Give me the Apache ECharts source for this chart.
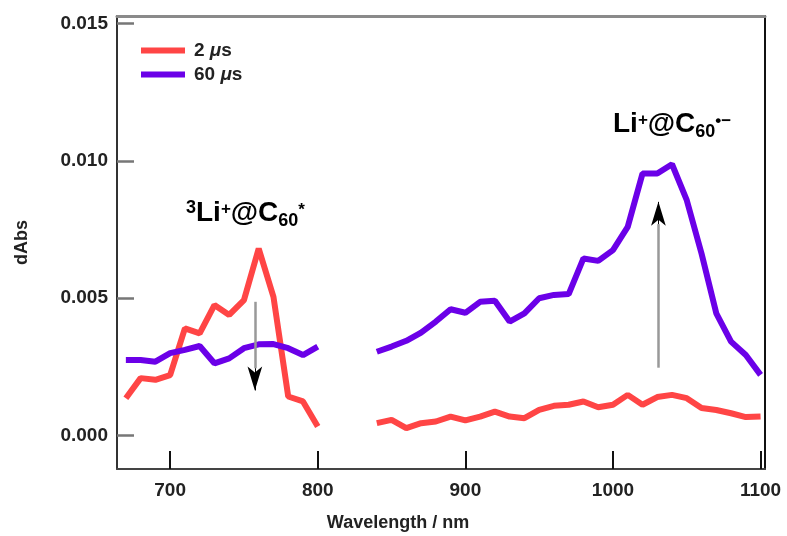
<!DOCTYPE html>
<html>
<head>
<meta charset="utf-8">
<script src="https://cdn.jsdelivr.net/npm/echarts@6/dist/echarts.min.js"></script>
<style>
  html, body { margin: 0; padding: 0; background: #fff; }
  #chart { width: 787px; height: 536px; }
</style>
</head>
<body>
<div id="chart"></div>
<script>
// wavelengths (nm), two measured windows
const wlVis = [670, 680, 690, 700, 710, 720, 730, 740, 750, 760, 770, 780, 790, 800]
const wlNir = [840, 850, 860, 870, 880, 890, 900, 910, 920, 930, 940, 950, 960, 970, 980, 990,
  1000, 1010, 1020, 1030, 1040, 1050, 1060, 1070, 1080, 1090, 1100]

// 2 us spectrum
const abs2Vis = [0.00136, 0.00209, 0.00203, 0.0022, 0.0039, 0.00372, 0.00475, 0.00439, 0.00493,
  0.00681, 0.00505, 0.00142, 0.00124, 0.00033]
const abs2Nir = [0.00045, 0.00057, 0.00027, 0.00045, 0.00051, 0.00069, 0.00055, 0.00069, 0.00087,
  0.00069, 0.00063, 0.00093, 0.00108, 0.00112, 0.00124, 0.00103, 0.00112, 0.00148, 0.00112,
  0.0014, 0.00148, 0.00136, 0.001, 0.00093, 0.00081, 0.00067, 0.00069]

// 60 us spectrum
const abs60Vis = [0.00275, 0.00275, 0.00269, 0.003, 0.00312, 0.00326, 0.00263, 0.00281, 0.00318,
  0.00332, 0.00333, 0.00318, 0.00293, 0.00324]
const abs60Nir = [0.00305, 0.00324, 0.00345, 0.00375, 0.00415, 0.0046, 0.00447, 0.00487, 0.00491,
  0.00415, 0.00445, 0.005, 0.00512, 0.00515, 0.00645, 0.00636, 0.00675, 0.0076, 0.00954,
  0.00954, 0.00988, 0.00857, 0.00663, 0.00445, 0.00342, 0.00293, 0.00221]

const xTicks = [700, 800, 900, 1000, 1100]
const yTicks = [0, 0.005, 0.01, 0.015]

const font = 'Liberation Sans, Arial, Helvetica, sans-serif'

// join both windows, leave a gap between 800 and 840 nm
const joinSpectrum = (valsVis, valsNir) => {
  const pts = wlVis.map((w, i) => [w, valsVis[i]])
  pts.push([820, '-'])
  return pts.concat(wlNir.map((w, i) => [w, valsNir[i]]))
}

const chart = echarts.init(document.getElementById('chart'))

// grey shaft + black head (tip sits on the end coord)
const arrow = (x, from, headStart, tip) => [
  [{ coord: [x, from], symbol: 'none', lineStyle: { color: '#999', width: 2.5, type: 'solid' } },
   { coord: [x, headStart], symbol: 'none' }],
  [{ coord: [x, headStart], symbol: 'none', lineStyle: { color: '#000', width: 1, type: 'solid' } },
   { coord: [x, tip], symbol: 'arrow', symbolSize: [11, 24] }]
]

const bold = { fontFamily: font, fontWeight: 'bold', color: '#111' }
const annoRich = {
  m: { ...bold, fontSize: 28, lineHeight: 34 },
  s3: { ...bold, fontSize: 18, lineHeight: 18, verticalAlign: 'top', padding: [3, 0, 0, 0] },
  pl: { ...bold, fontSize: 17, lineHeight: 18, verticalAlign: 'top', padding: [5, 0, 0, 0] },
  st: { ...bold, fontSize: 17, lineHeight: 18, verticalAlign: 'top', padding: [6, 0, 0, 0] },
  sub: { ...bold, fontSize: 18, lineHeight: 13, verticalAlign: 'bottom' }
}

const option = {
  animation: false,
  backgroundColor: '#fff',
  grid: { left: 117, right: 22, top: 16, bottom: 67, outerBoundsMode: 'none' },
  legend: {
    left: 141,
    top: 40,
    orient: 'vertical',
    padding: 0,
    itemGap: 3,
    itemWidth: 44,
    itemHeight: 6,
    icon: 'rect',
    formatter: name => name.replace('μ', '{i|μ}'),
    textStyle: {
      fontFamily: font, fontSize: 19, fontWeight: 'bold', color: '#222', lineHeight: 21,
      padding: [0, 0, 0, 4],
      rich: { i: { fontFamily: font, fontSize: 19, fontWeight: 'bold', fontStyle: 'italic', color: '#222' } }
    },
    data: ['2 μs', '60 μs']
  },
  xAxis: [{
    type: 'value',
    min: 664,
    max: 1103,
    name: 'Wavelength / nm',
    nameLocation: 'middle',
    nameGap: 45,
    nameTextStyle: { fontFamily: font, fontSize: 18, fontWeight: 'bold', color: '#222', padding: [0, 86, 0, 0] },
    axisLine: { onZero: false, lineStyle: { color: '#444', width: 2 } },
    axisTick: { inside: true, length: 18, customValues: xTicks, lineStyle: { color: '#111', width: 2 } },
    axisLabel: {
      margin: 12, customValues: xTicks, fontFamily: font, fontSize: 19, fontWeight: 'bold', color: '#222',
      formatter: v => String(v)
    },
    splitLine: { show: false }
  }, {
    type: 'value',
    position: 'top',
    min: 664,
    max: 1103,
    axisLine: { onZero: false, lineStyle: { color: '#8a8a8a', width: 3 } },
    axisTick: { show: false },
    axisLabel: { show: false },
    splitLine: { show: false }
  }],
  yAxis: [{
    type: 'value',
    min: -0.00122,
    max: 0.01528,
    name: 'dAbs',
    nameLocation: 'middle',
    nameGap: 86,
    nameTextStyle: { fontFamily: font, fontSize: 18, fontWeight: 'bold', color: '#222' },
    axisLine: { show: true, onZero: false, lineStyle: { color: '#333', width: 2 } },
    axisTick: { inside: true, length: 17, customValues: yTicks, lineStyle: { color: '#777', width: 2.5 } },
    axisLabel: {
      margin: 9, customValues: yTicks, fontFamily: font, fontSize: 19, fontWeight: 'bold', color: '#222',
      formatter: v => v.toFixed(3)
    },
    splitLine: { show: false }
  }, {
    type: 'value',
    position: 'right',
    min: -0.00122,
    max: 0.01528,
    axisLine: { show: true, onZero: false, lineStyle: { color: '#111', width: 2 } },
    axisTick: { show: false },
    axisLabel: { show: false },
    splitLine: { show: false }
  }],
  series: [{
    name: '2 μs',
    type: 'line',
    data: joinSpectrum(abs2Vis, abs2Nir),
    showSymbol: false,
    connectNulls: false,
    itemStyle: { color: '#ff4545' },
    lineStyle: { color: '#ff4545', width: 6 },
    z: 3
  }, {
    name: '60 μs',
    type: 'line',
    data: joinSpectrum(abs60Vis, abs60Nir),
    showSymbol: false,
    connectNulls: false,
    itemStyle: { color: '#6b00e8' },
    lineStyle: { color: '#6b00e8', width: 6 },
    z: 3,
    markLine: {
      silent: true,
      z: 10,
      label: { show: false },
      emphasis: { disabled: true },
      data: [
        ...arrow(757.4, 0.00487, 0.00245, 0.00164),
        ...arrow(1030.8, 0.00247, 0.0077, 0.00851)
      ]
    }
  }],
  graphic: [{
    type: 'text',
    left: 186,
    top: 196,
    style: { text: '{s3|3}{m|Li}{pl|+}{m|@C}{sub|60}{st|*}', rich: annoRich }
  }, {
    type: 'text',
    left: 613,
    top: 107,
    style: { text: '{m|Li}{pl|+}{m|@C}{sub|60}{st|•−}', rich: annoRich }
  }]
}

chart.setOption(option)
window.addEventListener('resize', () => chart.resize())
</script>
</body>
</html>
